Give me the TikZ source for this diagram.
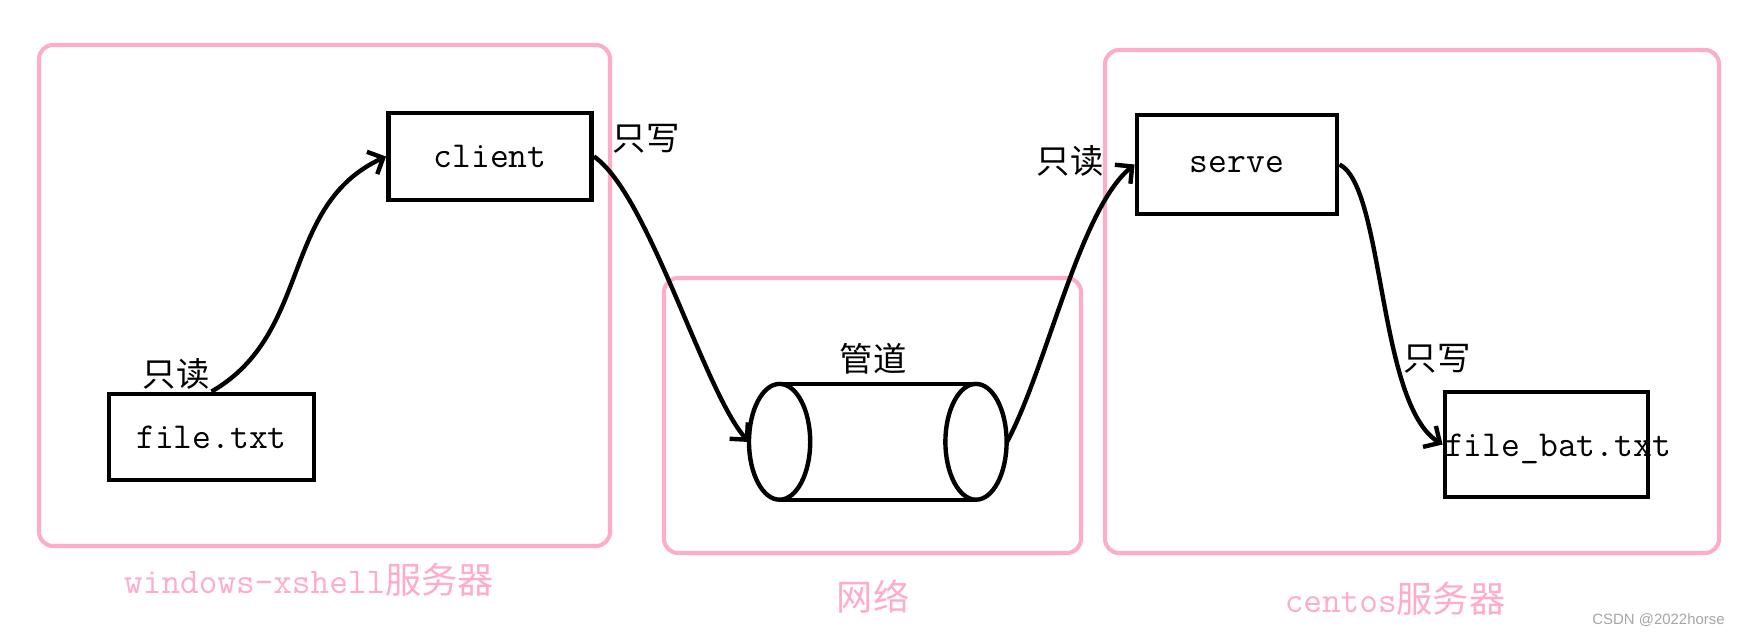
\documentclass[tikz,border=0pt]{standalone}
\usepackage{fontspec}
\newfontfamily\cjk{Noto Sans CJK SC}
\newfontfamily\wmfont{Liberation Sans}
\usetikzlibrary{arrows.meta}
\definecolor{pinkc}{RGB}{255,172,200}
\begin{document}
\begin{tikzpicture}[x=0.02cm,y=-0.02cm,
  pinkbox/.style={draw=pinkc, line width=2.3pt, rounded corners=8pt},
  blackbox/.style={draw=black, line width=2.8pt, inner sep=0pt, font=\fontsize{20.8}{24}\selectfont\ttfamily},
  plaintext/.style={inner sep=0pt, font=\fontsize{20.8}{24}\selectfont\ttfamily},
  cjklabel/.style={font=\fontsize{19}{22}\selectfont\cjk, inner sep=0pt},
  pinklabel/.style={text=pinkc, font=\fontsize{20.6}{24}\selectfont, inner sep=0pt},
  pipeline/.style={line width=2.5pt},
  conn/.style={line width=2.5pt, -{Straight Barb[length=7pt,width=14pt]}}
]
\useasboundingbox (0,0) rectangle (1745,635);
\fill[white] (0,0) rectangle (1745,635);

% pink groups
\draw[pinkbox] (39,45) rectangle (610,546);
\draw[pinkbox] (664,278) rectangle (1081,553);
\draw[pinkbox] (1105,50) rectangle (1719,553);

% boxes
\node[blackbox, minimum width=4.06cm, minimum height=1.74cm] (client) at (490,156.5) {client};
\node[blackbox, minimum width=4.1cm, minimum height=1.72cm] (file) at (211.5,437) {file.txt};
\node[blackbox, minimum width=4.0cm, minimum height=1.98cm] (serve) at (1237,164.5) {serve};
\node[blackbox, minimum width=4.06cm, minimum height=2.1cm] (fbbox) at (1546.5,444.5) {};
\node[plaintext] (fbtext) at (1558,449) {file\_bat.txt};

% pipe (cylinder)
\draw[pipeline] (779.6,441.8) ellipse [x radius=30.6, y radius=57.9];
\draw[pipeline] (976,441.8) ellipse [x radius=30.6, y radius=57.9];
\draw[pipeline] (779.6,384) -- (976,384);
\draw[pipeline] (779.6,500) -- (976,500);
\coordinate (pipeL) at (749,442);
\coordinate (pipeR) at (1007,442);

% labels
\node[cjklabel] (r1) at (176,374) {只读};
\node[cjklabel] (w1) at (646,139) {只写};
\node[cjklabel] (r2) at (1070,161) {只读};
\node[cjklabel] (pipelabel) at (873,359) {管道};
\node[cjklabel] (w2) at (1437,359) {只写};

\node[pinklabel] (lblwin) at (309,580) {\ttfamily windows-xshell\cjk 服务器};
\node[pinklabel] (lblnet) at (873,596) {\cjk 网络};
\node[pinklabel] (lblcent) at (1395,599) {\ttfamily centos\cjk 服务器};

\node[text=gray!70, font=\fontsize{8.5}{10}\selectfont\wmfont, anchor=east, inner sep=0pt] (wm) at (1725,620) {CSDN @2022horse};

% connectors
\draw[conn] (file.north) .. controls +(101,-58) and +(-106,49) .. (client.west);
\draw[conn] (client.east) .. controls +(55,38) and +(-45,-50) .. (pipeL);
\draw[conn] (pipeR) .. controls +(40,-75) and +(-55,45) .. (serve.west);
\draw[conn] (serve.east) .. controls +(45,22) and +(-65,-40) .. (fbbox.west);
\end{tikzpicture}
\end{document}
